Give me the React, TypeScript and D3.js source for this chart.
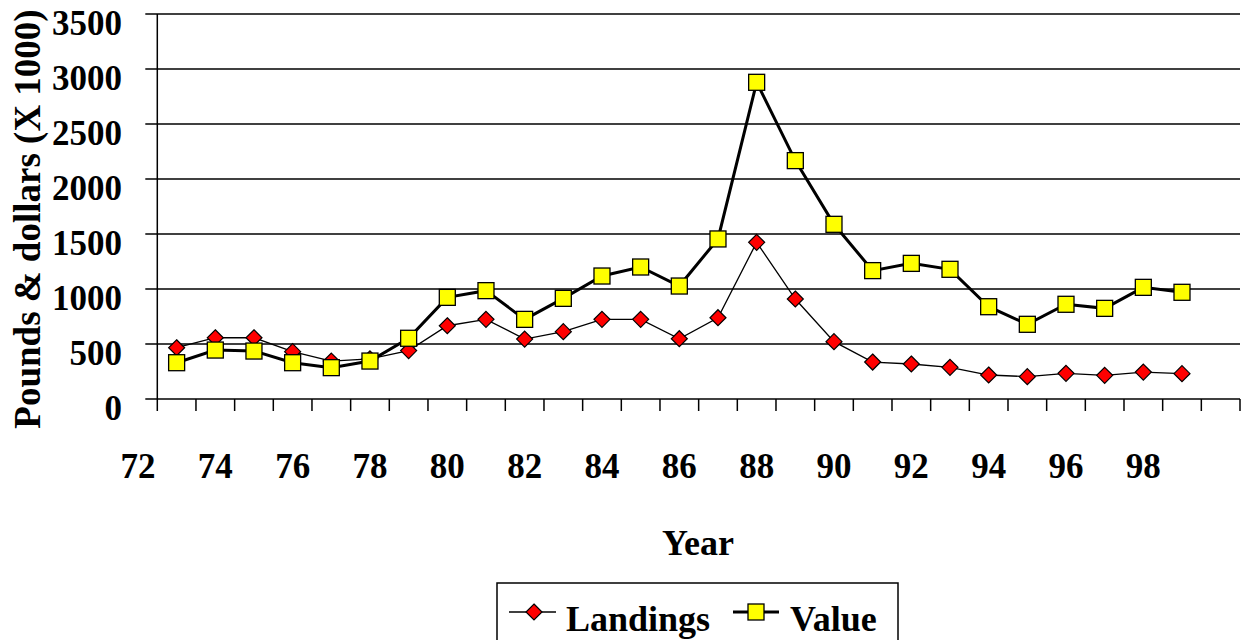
import React from "react";
import * as d3 from "d3";

const years = [73,74,75,76,77,78,79,80,81,82,83,84,85,86,87,88,89,90,91,92,93,94,95,96,97,98,99];
const landings = [466,557,557,430,345,365,440,666,724,545,612,724,724,548,739,1424,909,521,336,318,288,218,203,233,215,245,230];
const valueSeries = [330,445,436,330,285,345,552,924,985,724,915,1118,1200,1027,1455,2879,2167,1588,1167,1233,1179,839,679,861,824,1015,970];
const xLabels = [72,74,76,78,80,82,84,86,88,90,92,94,96,98];
const yTicks = [0,500,1000,1500,2000,2500,3000,3500];

const W = 1241, H = 640;
const left = 157.3, right = 1240, top = 14, bottom = 399;
const FONT = "'Liberation Serif', 'Times New Roman', serif";

export default function App() {
  const x = d3.scaleLinear().domain([72.5, 100.5]).range([left, right]);
  const y = d3.scaleLinear().domain([0, 3500]).range([bottom, top]);
  const tickYears = d3.range(72.5, 100.6, 1);
  const line = d3.line<number>().x((_, i) => x(years[i])).y((v) => y(v));
  const sq = 16;
  const dm = 8;
  const diamond = (cx: number, cy: number) =>
    `M${cx},${cy - dm}L${cx + dm},${cy}L${cx},${cy + dm}L${cx - dm},${cy}Z`;

  return (
    <svg width={W} height={H} style={{ position: "absolute", left: 0, top: 0, background: "#fff" }} fontFamily={FONT} fontWeight="bold">
      {yTicks.map((t) => (
        <g key={t}>
          <line x1={left - 12} x2={right} y1={y(t)} y2={y(t)} stroke="#000" strokeWidth={1.5} />
          <text x={122} y={y(t) + 21} textAnchor="end" fontSize={35}>{t}</text>
        </g>
      ))}
      <line x1={left} x2={left} y1={top} y2={bottom} stroke="#000" strokeWidth={1.5} />
      {tickYears.map((t) => (
        <line key={t} x1={x(t)} x2={x(t)} y1={bottom} y2={bottom + 12} stroke="#000" strokeWidth={1.5} />
      ))}
      {xLabels.map((l) => (
        <text key={l} x={x(l)} y={478} textAnchor="middle" fontSize={35}>{l}</text>
      ))}
      <path d={line(landings) || ""} fill="none" stroke="#000" strokeWidth={1.3} />
      {landings.map((v, i) => (
        <path key={i} d={diamond(x(years[i]), y(v))} fill="#ff0000" stroke="#000" strokeWidth={1.2} />
      ))}
      <path d={line(valueSeries) || ""} fill="none" stroke="#000" strokeWidth={3} />
      {valueSeries.map((v, i) => (
        <rect key={i} x={x(years[i]) - sq / 2} y={y(v) - sq / 2} width={sq} height={sq} fill="#ffff00" stroke="#000" strokeWidth={1.3} />
      ))}
      <text x={698} y={555} textAnchor="middle" fontSize={36}>Year</text>
      <text transform={`translate(40,219) rotate(-90)`} textAnchor="middle" fontSize={37}>Pounds &amp; dollars (X 1000)</text>
      <rect x={497} y={583} width={401} height={80} fill="none" stroke="#000" strokeWidth={1.5} />
      <line x1={509} x2={556} y1={612} y2={612} stroke="#000" strokeWidth={1.3} />
      <path d={diamond(534, 612)} fill="#ff0000" stroke="#000" strokeWidth={1.2} />
      <text x={566} y={631} fontSize={36}>Landings</text>
      <line x1={733} x2={779} y1={612} y2={612} stroke="#000" strokeWidth={3} />
      <rect x={756 - sq / 2} y={612 - sq / 2} width={sq} height={sq} fill="#ffff00" stroke="#000" strokeWidth={1.3} />
      <text x={790} y={631} fontSize={36}>Value</text>
    </svg>
  );
}
